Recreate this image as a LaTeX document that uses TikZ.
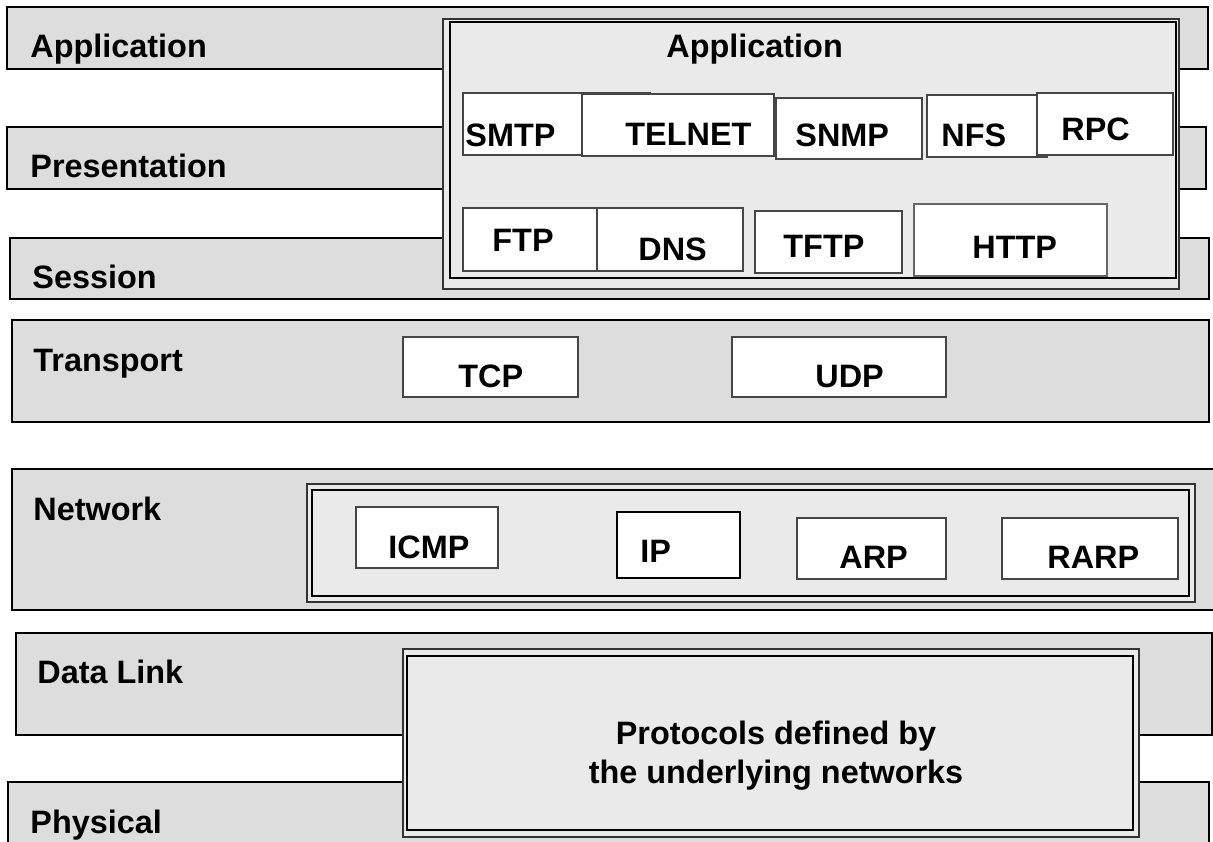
\documentclass[tikz,border=0pt]{standalone}
\usepackage{fontspec}
\setmainfont{Liberation Sans}
\definecolor{cBand}{RGB}{221,221,221}
\definecolor{cInner}{RGB}{234,234,234}
\definecolor{cEdge}{RGB}{70,70,70}
\tikzset{
  band/.style    ={draw=black, line width=1pt, fill=cBand},
  outerbox/.style={draw=black!80, line width=0.8pt, fill=cInner},
  innerbox/.style={draw=black, line width=1.4pt},
  pbox/.style    ={draw=cEdge, line width=0.6pt, fill=white},
  pboxbold/.style={pbox, draw=black, line width=1.1pt},
  txt/.style     ={anchor=base west, inner sep=0pt,
                   font=\bfseries\fontsize{16.2}{19}\selectfont},
  txtc/.style    ={txt, anchor=base},
}

\begin{document}
\begin{tikzpicture}[x=0.5pt, y=-0.5pt]
\useasboundingbox (0,0) rectangle (1213,841);
\fill[white] (0,0) rectangle (1213,841);

%% ============================================================
%% OSI LAYER BANDS  (left column, grey strips)
%% ============================================================
\draw[band] (7,7)     rectangle (1208,69);
\draw[band] (7,127)   rectangle (1206,189);
\draw[band] (10,238)  rectangle (1209,299);
\draw[band] (12,320)  rectangle (1209,422);
\draw[band] (12,469)  rectangle (1220,610);
\draw[band] (16,633)  rectangle (1212,735);
\draw[band] (8,782)   rectangle (1209,850);

\node[txt] (application)  at (30,57)  {Application};
\node[txt] (presentation) at (30,177) {Presentation};
\node[txt] (session)      at (32,288) {Session};
\node[txt] (transport)    at (33,371) {Transport};
\node[txt] (network)      at (33,520) {Network};
\node[txt] (datalink)     at (37,683) {Data Link};
\node[txt] (physical)     at (30,833) {Physical};

%% ============================================================
%% APPLICATION BLOCK  (spans the three upper layers)
%% ============================================================
\draw[outerbox] (443,19) rectangle (1179,289);
\draw[innerbox] (450,22) rectangle (1176,278);
\node[txt] (apptitle) at (666,57) {Application};

% upper row
\draw[pbox] (463,93)   rectangle (650,155);
\draw[pbox] (582,94)   rectangle (774,156);
\draw[pbox] (776,98)   rectangle (922,159);
\draw[pbox] (927,95)   rectangle (1047,157);
\draw[pbox] (1037,93)  rectangle (1173,155);
\node[txt] (smtp)   at (465,146)  {SMTP};
\node[txt] (telnet) at (625,145)  {TELNET};
\node[txt] (snmp)   at (795,146)  {SNMP};
\node[txt] (nfs)    at (941,146)  {NFS};
\node[txt] (rpc)    at (1061,140) {RPC};

% lower row
\draw[pbox] (463,208)  rectangle (612,271);
\draw[pbox] (597,208)  rectangle (743,271);
\draw[pbox] (755,211)  rectangle (902,273);
\draw[pbox, draw=black!60] (914,204) rectangle (1107,276);
\node[txt] (ftp)  at (492,251) {FTP};
\node[txt] (dns)  at (638,260) {DNS};
\node[txt] (tftp) at (783,257) {TFTP};
\node[txt] (http) at (972,258) {HTTP};

%% ============================================================
%% TRANSPORT
%% ============================================================
\draw[pbox] (403,337) rectangle (578,397);
\draw[pbox] (732,337) rectangle (946,397);
\node[txt] (tcp) at (458,387) {TCP};
\node[txt] (udp) at (815,387) {UDP};

%% ============================================================
%% NETWORK  (double frame)
%% ============================================================
\draw[outerbox] (307,484) rectangle (1195,602);
\draw[innerbox] (312,490) rectangle (1189,596);
\draw[pbox]     (356,507)  rectangle (498,568);
\draw[pboxbold] (617,512)  rectangle (740,578);
\draw[pbox]     (797,518)  rectangle (946,579);
\draw[pbox]     (1002,518) rectangle (1178,579);
\node[txt] (icmp) at (388,558)  {ICMP};
\node[txt] (ip)   at (640,562)  {IP};
\node[txt] (arp)  at (839,568)  {ARP};
\node[txt] (rarp) at (1047,568) {RARP};

%% ============================================================
%% DATA LINK + PHYSICAL  (underlying networks)
%% ============================================================
\draw[outerbox] (403,649) rectangle (1139,837);
\draw[innerbox] (407,656) rectangle (1133,830);
\node[txtc] (under1) at (776,744) {Protocols defined by};
\node[txtc] (under2) at (776,783) {the underlying networks};

\end{tikzpicture}
\end{document}
